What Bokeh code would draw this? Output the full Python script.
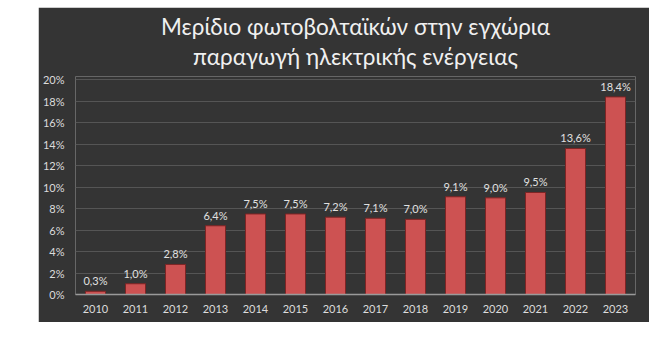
from bokeh.plotting import figure
from bokeh.models import ColumnDataSource, Title, FixedTicker, Range1d
from bokeh.embed import file_html
from bokeh.resources import INLINE
from bokeh.core.properties import value

years = ["2010", "2011", "2012", "2013", "2014", "2015", "2016",
         "2017", "2018", "2019", "2020", "2021", "2022", "2023"]
shares = [0.3, 1.0, 2.8, 6.4, 7.5, 7.5, 7.2, 7.1, 7.0, 9.1, 9.0, 9.5, 13.6, 18.4]
labels = ["0,3%", "1,0%", "2,8%", "6,4%", "7,5%", "7,5%", "7,2%",
          "7,1%", "7,0%", "9,1%", "9,0%", "9,5%", "13,6%", "18,4%"]
y_ticks = [0, 2, 4, 6, 8, 10, 12, 14, 16, 18, 20]
title_line1 = "Μερίδιο φωτοβολταϊκών στην εγχώρια"
title_line2 = "παραγωγή ηλεκτρικής ενέργειας"

FONT = "Lato"
BG = "#343434"

src = ColumnDataSource(dict(x=years, top=shares, label=labels))

p = figure(x_range=years, y_range=Range1d(0, 20.3), width=611, height=315,
           output_backend="svg", toolbar_location=None,
           margin=(7, 0, 0, 38),
           min_border_left=37, min_border_right=14, min_border_bottom=28,
           min_border_top=69)
p.background_fill_color = BG
p.border_fill_color = BG
p.outline_line_color = None

p.add_layout(Title(text=title_line2, text_font=FONT, text_font_size="22.5px",
                   text_font_style="normal", text_color="#f0f0f0",
                   align="center", standoff=14), "above")
p.add_layout(Title(text=title_line1, text_font=FONT, text_font_size="22.5px",
                   text_font_style="normal", text_color="#f0f0f0",
                   align="center", standoff=-12), "above")

p.vbar(x="x", top="top", width=0.5, source=src, fill_color="#cd5252",
       line_color="#7e2424", line_width=1)
p.text(x="x", y="top", text="label", source=src, text_align="center",
       text_baseline="bottom", y_offset=-4, text_font=value(FONT),
       text_font_size="11px", text_color="#e0e0e0")

p.yaxis.ticker = FixedTicker(ticks=y_ticks)
p.yaxis.major_label_overrides = {t: f"{t}%" for t in y_ticks}
for ax in (p.xaxis, p.yaxis):
    ax.major_label_text_font = FONT
    ax.major_label_text_font_size = "11px"
    ax.major_label_text_color = "#dcdcdc"
    ax.major_tick_line_color = None
    ax.minor_tick_line_color = None
p.yaxis.axis_line_color = None
p.yaxis.major_label_standoff = 5
p.xaxis.axis_line_color = "#9a9a9a"
p.xaxis.axis_line_width = 1.5
p.xaxis.major_label_standoff = 4
p.xgrid.grid_line_color = None
p.ygrid.grid_line_color = "#555555"
p.ygrid.grid_line_width = 1

open("out.html", "w").write(file_html(p, INLINE))
